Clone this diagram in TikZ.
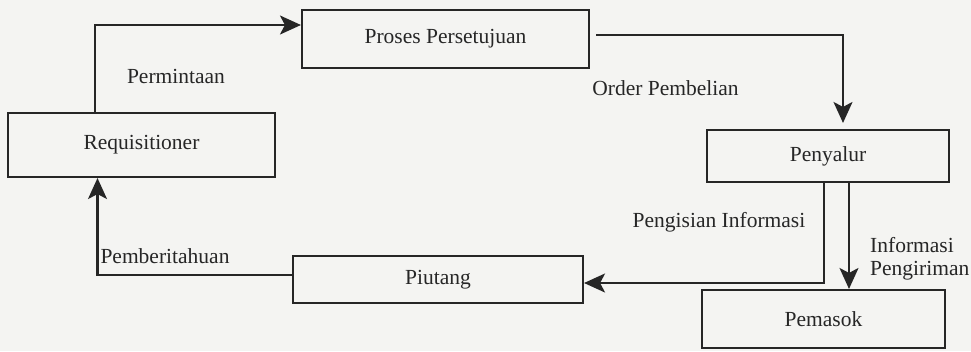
\documentclass[tikz,border=0pt]{standalone}
\usepackage{fontspec}
\setmainfont{Liberation Serif}
\usetikzlibrary{arrows.meta}
\definecolor{paper}{HTML}{F4F4F2}
\definecolor{ink}{HTML}{262626}
\tikzset{
  box/.style={draw=ink, line width=2.1pt, inner sep=0pt, text=ink,
              font=\fontsize{21.5}{24}\selectfont},
  lbl/.style={inner sep=0pt, text=ink, font=\fontsize{21.5}{23}\selectfont},
  arr/.style={draw=ink, line width=2.1pt,
              -{Stealth[length=21pt,width=19pt,inset=5pt]}},
}
\begin{document}
\begin{tikzpicture}[x=1pt,y=-1pt]
\fill[paper] (0,0) rectangle (971,351);
\useasboundingbox (0,0) rectangle (971,351);

\node[box, minimum width=287pt, minimum height=58pt] (proses) at (445.5,39) {Proses Persetujuan};
\node[box, minimum width=267pt, minimum height=64pt] (req) at (141.5,145) {Requisitioner};
\node[box, minimum width=242pt, minimum height=52pt] (peny) at (828,156) {Penyalur};
\node[box, minimum width=290pt, minimum height=47pt] (piut) at (438,279.5) {Piutang};
\node[box, minimum width=243pt, minimum height=58pt] (pemasok) at (823.5,319) {Pemasok};

\draw[arr] ([xshift=-46.5pt]req.north) |- ([yshift=14pt]proses.west);
\draw[arr, shorten >=6pt] ([xshift=6pt,yshift=4pt]proses.east) -| ([xshift=15pt]peny.north);
\draw[arr] ([xshift=-4pt]peny.south) |- ([yshift=-3.5pt]piut.east);
\draw[arr] ([xshift=21pt]peny.south) -- ([xshift=21pt]peny.south |- pemasok.north);
\draw[arr] ([yshift=4.5pt]piut.west) -| ([xshift=-44pt]req.south);

\node[lbl] (lperm) at (176,76) {Permintaan};
\node[lbl] (lorder) at (665.5,88) {Order Pembelian};
\node[lbl] (lpeng) at (719,222) {Pengisian Informasi};
\node[lbl, anchor=west, align=left] (linfo) at (870,259) {Informasi\\Pengiriman};
\node[lbl] (lpemb) at (165,256) {Pemberitahuan};
\end{tikzpicture}
\end{document}
